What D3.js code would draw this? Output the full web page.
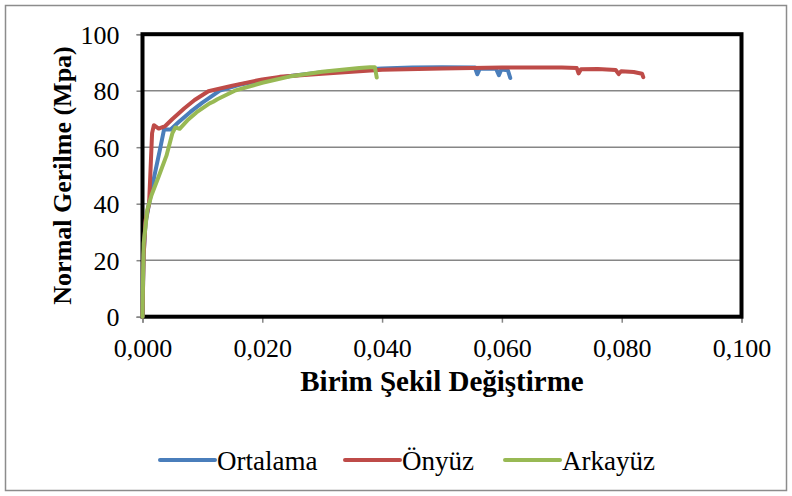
<!DOCTYPE html>
<html><head><meta charset="utf-8">
<script src="https://cdn.jsdelivr.net/npm/d3@7"></script>
<style>html,body{margin:0;padding:0;background:#fff}svg{display:block}</style>
</head><body>
<svg id="c" width="792" height="496"></svg>
<script>
const seriesNames = ["Ortalama", "Önyüz", "Arkayüz"];
const seriesColors = ["#4A7EBB", "#BE4B48", "#98B954"];
const xTicks = [0, 0.02, 0.04, 0.06, 0.08, 0.1];
const yTicks = [0, 20, 40, 60, 80, 100];
const xTitle = "Birim Şekil Değiştirme";
const yTitle = "Normal Gerilme (Mpa)";

const ortalama = [[0,0],[0.0001,12],[0.0002,22],[0.0005,33],[0.0011,40],[0.002,50],[0.003,60],[0.0036,66.3],[0.0047,66.3],[0.006,68.8],[0.008,72.5],[0.01,75.8],[0.0129,80],[0.016,82],[0.02,83.7],[0.025,85.3],[0.03,86.5],[0.035,87.3],[0.04,87.9],[0.045,88.2],[0.05,88.3],[0.0555,88.2],[0.0559,85.8],[0.0563,87.8],[0.059,87.9],[0.0595,85.5],[0.0599,87.5],[0.061,87.2],[0.0614,84.5]];
const onyuz = [[0,0],[0.0001,12],[0.0002,22],[0.0005,34],[0.0011,40],[0.0014,55],[0.0016,65],[0.0019,67.8],[0.0027,66.6],[0.0038,67.5],[0.005,70],[0.007,73.8],[0.0087,76.7],[0.011,79.8],[0.015,81.8],[0.02,84],[0.0229,84.9],[0.03,86],[0.0362,86.9],[0.04,87.4],[0.05,87.9],[0.06,88.2],[0.07,88.2],[0.0725,88],[0.0728,86.1],[0.0732,87.6],[0.076,87.7],[0.079,87.3],[0.0795,85.9],[0.0799,86.9],[0.082,86.6],[0.0834,86],[0.0836,84.8]];
const arkayuz = [[0,0],[0.0001,15],[0.0002,26],[0.0008,37.8],[0.0015,43],[0.0027,49.6],[0.004,57],[0.005,65],[0.0055,67],[0.0062,66.5],[0.0075,69.5],[0.009,72.3],[0.0112,75.5],[0.0118,76.1],[0.0125,77],[0.0154,80],[0.02,82.8],[0.0245,85],[0.03,86.7],[0.0362,88],[0.038,88.3],[0.0388,88.3],[0.0391,84.7]];
const seriesData = [ortalama, onyuz, arkayuz];

const svg = d3.select("#c");
const L = 142.5, R = 741.5, T = 34.2, B = 316.7;
const x = d3.scaleLinear().domain([0, 0.1]).range([L, R]);
const y = d3.scaleLinear().domain([0, 100]).range([B, T]);
const FONT = "Liberation Serif";

// outer chart border
svg.append("rect").attr("x",5.5).attr("y",5.5).attr("width",781).attr("height",485)
  .attr("fill","#fff").attr("stroke","#8c8c8c").attr("stroke-width",1.5);

// gridlines
svg.append("g").selectAll("line").data(yTicks.filter(d=>d>0 && d<100)).join("line")
  .attr("x1",L).attr("x2",R).attr("y1",d=>y(d)).attr("y2",d=>y(d))
  .attr("stroke","#868686").attr("stroke-width",1.5);

// axes
const fmt = d => d3.format(".3f")(d).replace(".", ",");
const gx = svg.append("g").attr("transform",`translate(0,${B})`)
  .call(d3.axisBottom(x).tickValues(xTicks).tickFormat(fmt).tickSize(6).tickPadding(16));
const gy = svg.append("g").attr("transform",`translate(${L},0)`)
  .call(d3.axisLeft(y).tickValues(yTicks).tickSize(6).tickPadding(17));
[gx, gy].forEach(g => {
  g.attr("font-family", FONT).attr("font-size", 26);
  g.select(".domain").attr("stroke","#868686").attr("stroke-width",1.5);
  g.selectAll(".tick line").attr("stroke","#868686").attr("stroke-width",1.5);
  g.selectAll("text").attr("font-family",FONT).attr("font-size",26).attr("fill","#000");
});
gy.selectAll("text").attr("dy","0.34em");

// plot border
svg.append("rect").attr("x",L).attr("y",T).attr("width",R-L).attr("height",B-T)
  .attr("fill","none").attr("stroke","#000").attr("stroke-width",4);

// series
const line = d3.line().x(d=>x(d[0])).y(d=>y(d[1]));
svg.append("g").selectAll("path").data(seriesData).join("path")
  .attr("d", line).attr("fill","none")
  .attr("stroke",(d,i)=>seriesColors[i]).attr("stroke-width",4)
  .attr("stroke-linejoin","round").attr("stroke-linecap","round");

// titles
svg.append("text").attr("x",(L+R)/2).attr("y",391).attr("text-anchor","middle")
  .attr("font-family",FONT).attr("font-weight","bold").attr("font-size",29).text(xTitle);
svg.append("text").attr("transform",`translate(71,${(T+B)/2}) rotate(-90)`).attr("text-anchor","middle")
  .attr("font-family",FONT).attr("font-weight","bold").attr("font-size",26).text(yTitle);

// legend
const legX = [160, 345, 505];
const lg = svg.append("g").selectAll("g").data(seriesNames).join("g")
  .attr("transform",(d,i)=>`translate(${legX[i]},460)`);
lg.append("line").attr("x1",0).attr("x2",55).attr("stroke",(d,i)=>seriesColors[i])
  .attr("stroke-width",4).attr("stroke-linecap","round");
lg.append("text").attr("x",57).attr("y",10).attr("font-family",FONT).attr("font-size",27).text(d=>d);
</script>
</body></html>
